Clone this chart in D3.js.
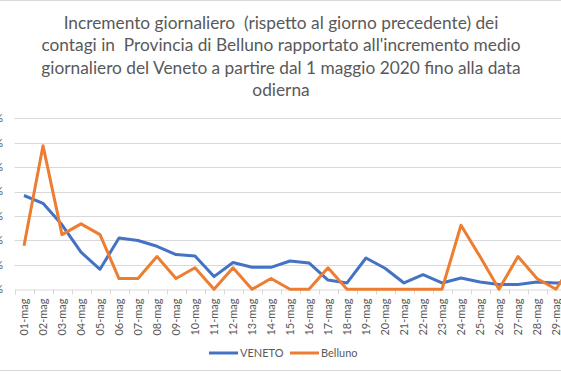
<!DOCTYPE html>
<html>
<head>
<meta charset="utf-8">
<script src="https://cdn.jsdelivr.net/npm/d3@7"></script>
<style>
  body { margin: 0; background: #fff; }
  svg { display: block; font-family: Lato, "Open Sans", sans-serif; }
</style>
</head>
<body>
<div id="chart"></div>
<script>
// days of May 2020 (30-mag is outside the visible area, only its segment shows)
const days = ["01-mag","02-mag","03-mag","04-mag","05-mag","06-mag","07-mag","08-mag","09-mag","10-mag",
  "11-mag","12-mag","13-mag","14-mag","15-mag","16-mag","17-mag","18-mag","19-mag","20-mag",
  "21-mag","22-mag","23-mag","24-mag","25-mag","26-mag","27-mag","28-mag","29-mag","30-mag"];

// daily increment, percent
const veneto = [0.192, 0.176, 0.132, 0.076, 0.041, 0.105, 0.100, 0.088, 0.071, 0.068,
  0.026, 0.055, 0.045, 0.045, 0.058, 0.054, 0.019, 0.013, 0.064, 0.043,
  0.013, 0.030, 0.013, 0.023, 0.015, 0.010, 0.010, 0.015, 0.013, 0.015];
const belluno = [0.089, 0.294, 0.112, 0.134, 0.112, 0.022, 0.022, 0.067, 0.022, 0.044,
  0, 0.044, 0, 0.022, 0, 0, 0.044, 0, 0, 0,
  0, 0, 0, 0.131, 0.067, 0, 0.067, 0.022, 0, 0.060];

const yTicks = [0, 0.05, 0.10, 0.15, 0.20, 0.25, 0.30, 0.35];
const titleLines = [
  "Incremento giornaliero  (rispetto al giorno precedente) dei",
  "contagi in  Provincia di Belluno rapportato all'incremento medio",
  "giornaliero del Veneto a partire dal 1 maggio 2020 fino alla data",
  "odierna"
];
const series = [
  { name: "VENETO", values: veneto, color: "#4472C4" },
  { name: "Belluno", values: belluno, color: "#ED7D31" }
];

const width = 561, height = 374;
const svg = d3.select("#chart").append("svg")
  .attr("width", width)
  .attr("height", height);

// chart border
svg.append("rect")
  .attr("x", -1).attr("y", 0.5)
  .attr("width", width + 2).attr("height", 370)
  .attr("fill", "none").attr("stroke", "#d9d9d9");

// title
svg.append("g")
  .selectAll("text")
  .data(titleLines)
  .join("text")
  .attr("x", 281)
  .attr("y", (d, i) => 29 + i * 22.3)
  .attr("text-anchor", "middle")
  .attr("fill", "#595959")
  .attr("font-size", 17.3)
  .style("white-space", "pre")
  .text(d => d);

const x = d3.scaleBand().domain(days).range([14.5, 14.5 + 19 * days.length]).padding(0);
const y = d3.scaleLinear().domain([0, 0.35]).range([289.3, 118.3]);
const cx = d => x(d) + x.bandwidth() / 2;

// gridlines
svg.append("g")
  .selectAll("line")
  .data(yTicks.slice(1))
  .join("line")
  .attr("x1", 14.5).attr("x2", width)
  .attr("y1", d => Math.round(y(d)) + 0.5)
  .attr("y2", d => Math.round(y(d)) + 0.5)
  .attr("stroke", "#d9d9d9");

// y labels (clipped by the left edge, as in the original)
svg.append("g")
  .selectAll("text")
  .data(yTicks)
  .join("text")
  .attr("x", 3)
  .attr("y", d => y(d))
  .attr("dy", "0.35em")
  .attr("text-anchor", "end")
  .attr("fill", "#595959")
  .attr("font-size", 11)
  .text(d => d3.format(".2f")(d).replace(".", ",") + "%");

// x axis
const xAxis = svg.append("g")
  .attr("transform", `translate(0,${Math.round(y(0)) + 0.5})`)
  .call(d3.axisBottom(x).tickSize(0).tickPadding(0));
xAxis.select(".domain").attr("stroke", "#d9d9d9");
xAxis.selectAll(".tick text")
  .attr("transform", "rotate(-90)")
  .attr("x", -9)
  .attr("y", 0)
  .attr("dy", "0.35em")
  .attr("text-anchor", "end")
  .attr("fill", "#595959")
  .attr("font-size", 11)
  .attr("font-family", "Lato, sans-serif");

// boundary tick marks
xAxis.append("g")
  .selectAll("line")
  .data(days)
  .join("line")
  .attr("x1", d => Math.round(x(d)) + 0.5)
  .attr("x2", d => Math.round(x(d)) + 0.5)
  .attr("y1", 0).attr("y2", 5)
  .attr("stroke", "#d9d9d9");

// lines
const line = d3.line()
  .x((d, i) => cx(days[i]))
  .y(d => y(d));

svg.append("g")
  .attr("fill", "none")
  .selectAll("path")
  .data(series)
  .join("path")
  .attr("d", d => line(d.values))
  .attr("stroke", d => d.color)
  .attr("stroke-width", 3)
  .attr("stroke-linejoin", "round");

// legend
const legend = svg.append("g")
  .selectAll("g")
  .data(series)
  .join("g")
  .attr("transform", (d, i) => `translate(${[209, 290][i]},353)`);
legend.append("line")
  .attr("x1", 0).attr("x2", 29)
  .attr("stroke", d => d.color)
  .attr("stroke-width", 3);
legend.append("text")
  .attr("x", 31)
  .attr("dy", "0.35em")
  .attr("fill", "#595959")
  .attr("font-size", 11)
  .text(d => d.name);
</script>
</body>
</html>
